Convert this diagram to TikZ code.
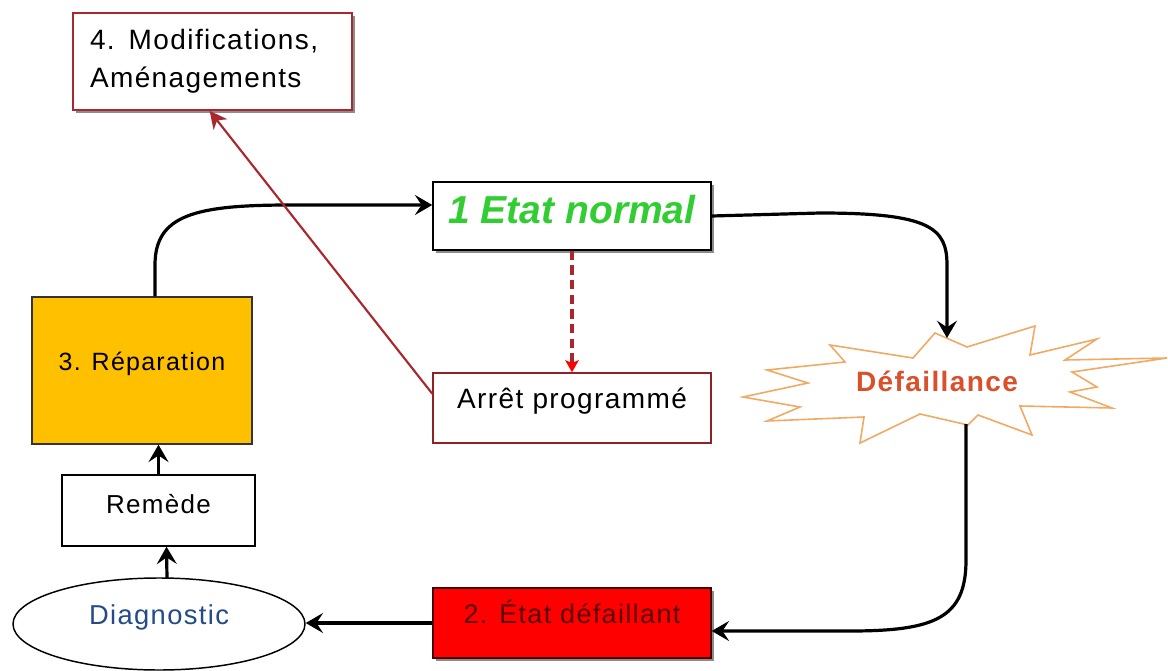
\documentclass[tikz,border=0pt]{standalone}
\usepackage{fontspec}
\setmainfont{Liberation Sans}[LetterSpace=5]
\newfontfamily\plainsans{Liberation Sans}
\usetikzlibrary{arrows.meta,calc,shapes.geometric,shadows}
\definecolor{modred}{RGB}{170,40,45}
\definecolor{normgreen}{RGB}{50,205,50}
\definecolor{failorange}{RGB}{217,80,43}
\definecolor{burst}{RGB}{240,170,100}
\definecolor{diagblue}{RGB}{35,75,135}
\definecolor{repyellow}{RGB}{255,192,0}
\definecolor{etatred}{RGB}{255,0,0}
\definecolor{etattext}{RGB}{90,0,0}
\begin{document}
\begin{tikzpicture}[x=0.75pt,y=-0.75pt,
  box/.style={rectangle, draw, line width=1.1pt, inner sep=0pt},
  shad/.style={drop shadow={shadow xshift=2.5pt,shadow yshift=-2.5pt,fill=black!45,opacity=1}},
  basemid/.style={text height=6pt, text depth=6pt},
  arr/.style={line width=2.4pt, -{Stealth[length=13pt,width=15pt,inset=5pt]}},
  redarr/.style={draw=modred, line width=1.6pt, -{Stealth[length=13pt,width=13pt,inset=4pt]}},
  dasharr/.style={draw=modred, line width=2.6pt, dash pattern=on 7pt off 4pt, -{Stealth[length=9pt,width=10pt,inset=2pt,color=red,fill=red]}}
]
\useasboundingbox (0,0) rectangle (1168,671);
\fill[white] (0,0) rectangle (1168,671);

% burst outline
\draw[burst, line width=1.2pt, fill=white, line join=miter]
  (830,345) -- (913,358) -- (935,333) -- (967,347) -- (1035,326) -- (1030,355)
  -- (1097,339) -- (1065,360) -- (1167,358) -- (1072,372) -- (1097,387)
  -- (1070,392) -- (1112,408) -- (1020,406) -- (1032,435) -- (978,415)
  -- (968,425) -- (920,414) -- (860,443) -- (864,417) -- (767,421)
  -- (800,407) -- (743,397) -- (808,383) -- (767,370) -- (845,362) -- cycle;
\coordinate (fin) at (947,338);
\coordinate (fout) at (966,424);

% nodes
\node (mod) [box, draw=modred, line width=1.4pt, shad, fill=white,
  minimum width=209.25pt, minimum height=72.75pt,
  text width=183.75pt, inner xsep=12.75pt, align=left,
  font=\fontsize{21}{28.5}\selectfont] at (212.5,61.5)
  {4. Modifications,\\Aménagements};

\node (etat) [box, shad, fill=white, minimum width=208.5pt, minimum height=51pt,
  text height=10.5pt, text depth=0pt,
  font=\plainsans\bfseries\itshape\fontsize{29.25}{34}\selectfont, text=normgreen]
  at (572,216) {1 Etat normal};

\node (arr) [box, draw=modred!85!black, fill=white, minimum width=208.5pt, minimum height=52.5pt,
  basemid, font=\fontsize{21}{25}\selectfont] at (572,408) {Arrêt programmé};

\node (rep) [box, fill=repyellow, draw=black!80, minimum width=165pt, minimum height=110.25pt,
  basemid, font=\fontsize{18.75}{22}\selectfont] at (142,370.5) {3. Réparation};

\node (rem) [box, fill=white, minimum width=144.75pt, minimum height=53.25pt,
  text height=9pt, text depth=5pt, font=\fontsize{19.5}{23}\selectfont] at (158.5,510.5) {Remède};

\node (diag) [ellipse, draw, line width=1.1pt, fill=white, inner sep=0pt,
  minimum width=219pt, minimum height=69pt, basemid,
  font=\fontsize{20.5}{24}\selectfont, text=diagblue] at (159,624) {Diagnostic};

\node (etat2) [box, shad, fill=etatred, draw=black!70!red, minimum width=208.5pt, minimum height=52.5pt,
  basemid, font=\fontsize{20.25}{24}\selectfont, text=etattext] at (572,623) {2. État défaillant};

\node (fail) [basemid, inner sep=0pt, font=\bfseries\fontsize{21}{25}\selectfont, text=failorange]
  at (937,391) {Défaillance};

% connectors
\draw[arr] (etat.east) -- (820,213) .. controls (930,213) and (947,228) .. (947,265) -- (fin);
\draw[arr] (fout) -- (966,560) .. controls (966,618) and (935,631) .. (850,631)
  -- ($(etat2.east)+(0,8)$);
\draw[arr] (etat2.west) -- (diag.east |- etat2.west);
\draw[arr] ($(diag.north)+(8,1)$) -- ($(rem.south)+(8,0)$);
\draw[arr] (rem.north) -- (rem.north |- rep.south);
\draw[arr] ($(rep.north)+(13,0)$) -- (155,265) .. controls (155,215) and (195,205) .. (290,205)
  -- ($(etat.west)+(0,-11)$);
\draw[dasharr] (etat.south) -- (arr.north);
\draw[redarr] ($(arr.north west)!0.3!(arr.south west)$) -- ($(mod.south west)!0.49!(mod.south east)$);
\end{tikzpicture}
\end{document}
